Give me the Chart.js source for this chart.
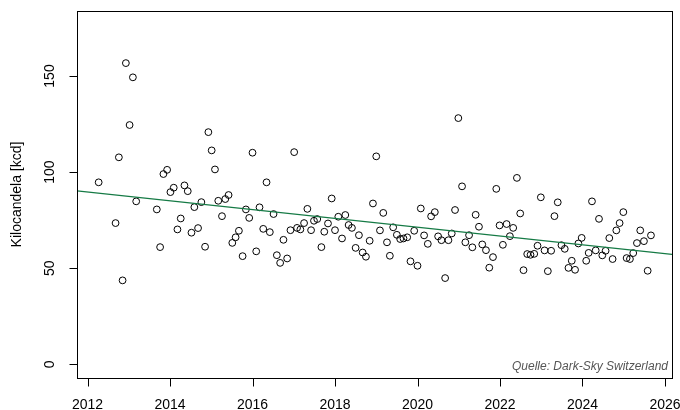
<!DOCTYPE html>
<html>
<head>
<meta charset="utf-8">
<script src="https://cdn.jsdelivr.net/npm/chart.js@4.4.1/dist/chart.umd.min.js"></script>
<style>
  html, body { margin: 0; padding: 0; background: #fff; }
  #wrap { width: 680px; height: 410px; }
</style>
</head>
<body>
<div id="wrap"><canvas id="chart" width="680" height="410"></canvas></div>
<script>
// data (decimal year, kcd)
const years = [
  2012.27, 2012.68, 2012.76, 2012.85, 2012.93, 2013.02, 2013.10, 2013.18,
  2013.68, 2013.76, 2013.84, 2013.93, 2014.01, 2014.09, 2014.18, 2014.26,
  2014.35, 2014.43, 2014.52, 2014.59, 2014.68, 2014.76, 2014.85, 2014.93,
  2015.01, 2015.09, 2015.17, 2015.26, 2015.34, 2015.42, 2015.51, 2015.59,
  2015.67, 2015.76, 2015.84, 2015.92, 2016.00, 2016.09, 2016.17, 2016.26,
  2016.34, 2016.42, 2016.51, 2016.59, 2016.67, 2016.75, 2016.84, 2016.92,
  2017.01, 2017.08, 2017.16, 2017.25, 2017.33, 2017.42, 2017.49, 2017.57,
  2017.67, 2017.74, 2017.83, 2017.92, 2018.00, 2018.08, 2018.17, 2018.25,
  2018.33, 2018.41, 2018.50, 2018.58, 2018.67, 2018.75, 2018.84, 2018.92,
  2019.00, 2019.09, 2019.17, 2019.26, 2019.33, 2019.41, 2019.50, 2019.58,
  2019.66, 2019.75, 2019.83, 2019.92, 2020.00, 2020.08, 2020.16, 2020.25,
  2020.33, 2020.42, 2020.50, 2020.58, 2020.67, 2020.75, 2020.83, 2020.91,
  2020.99, 2021.08, 2021.16, 2021.25, 2021.33, 2021.41, 2021.49, 2021.57,
  2021.66, 2021.74, 2021.83, 2021.91, 2021.99, 2022.07, 2022.16, 2022.24,
  2022.32, 2022.41, 2022.49, 2022.57, 2022.66, 2022.74, 2022.83, 2022.91,
  2022.99, 2023.08, 2023.16, 2023.24, 2023.32, 2023.40, 2023.49, 2023.57,
  2023.66, 2023.74, 2023.82, 2023.90, 2023.98, 2024.09, 2024.15, 2024.23,
  2024.32, 2024.40, 2024.48, 2024.56, 2024.65, 2024.73, 2024.82, 2024.90,
  2024.99, 2025.07, 2025.15, 2025.23, 2025.32, 2025.40, 2025.49, 2025.58,
  2025.66
];
const kcd = [
  94.7, 73.5, 107.7, 43.7, 156.7, 124.5, 149.3, 84.8,
  80.6, 61.0, 99.0, 101.2, 89.6, 91.9, 70.2, 75.9,
  93.1, 90.1, 68.5, 81.8, 70.9, 84.4, 61.2, 120.8,
  111.3, 101.4, 85.1, 77.1, 86.0, 88.1, 63.2, 66.1,
  69.5, 56.3, 80.6, 76.2, 110.1, 58.8, 81.7, 70.5,
  94.7, 68.8, 78.2, 56.8, 52.8, 64.8, 55.1, 69.8,
  110.4, 71.0, 70.2, 73.5, 80.9, 69.8, 74.7, 75.6,
  61.0, 69.0, 73.3, 86.3, 69.8, 76.8, 65.5, 77.7,
  72.5, 71.0, 60.6, 67.2, 58.2, 56.0, 64.3, 83.7,
  108.2, 69.7, 78.8, 63.5, 56.5, 71.3, 67.4, 65.2,
  65.5, 66.1, 53.6, 69.5, 51.3, 81.1, 67.1, 62.7,
  77.0, 79.2, 66.6, 64.6, 44.9, 64.6, 68.1, 80.3,
  128.1, 92.6, 63.5, 67.2, 60.9, 77.8, 71.6, 62.4,
  59.4, 50.3, 55.8, 91.3, 72.3, 62.2, 73.0, 66.7,
  71.0, 97.0, 78.5, 49.0, 57.4, 57.0, 57.5, 61.7,
  86.9, 59.3, 48.5, 59.1, 77.1, 84.3, 62.0, 60.1,
  50.2, 53.9, 49.2, 62.9, 65.8, 53.9, 58.0, 84.8,
  59.3, 75.7, 56.7, 59.1, 65.7, 54.8, 69.7, 73.5,
  79.2, 55.3, 54.8, 57.9, 63.1, 69.7, 64.1, 48.7,
  67.1
];
// fitted trend line, end points at the plot edges
const trendX = [2011.745, 2026.17];
const trendY = [90.3, 57.2];

const xTicks = [2012, 2014, 2016, 2018, 2020, 2022, 2024, 2026];
const yTicks = [0, 50, 100, 150];
const yTitle = "Kilocandela [kcd]";
const note = "Quelle: Dark-Sky Switzerland";

const FONT = "'Liberation Sans', Arial, Helvetica, sans-serif";

// R style box + axes
const rAxes = {
  id: "rAxes",
  afterDraw(chart) {
    const ctx = chart.ctx;
    const a = chart.chartArea;
    const xs = chart.scales.x, ys = chart.scales.y;
    const L = Math.round(a.left) + 0.5, R = Math.round(a.right) + 0.5;
    const T = Math.round(a.top) + 0.5, B = Math.round(a.bottom) + 0.5;
    ctx.save();
    ctx.strokeStyle = "#000";
    ctx.lineWidth = 1;
    ctx.strokeRect(L, T, R - L, B - T);

    ctx.fillStyle = "#000";
    ctx.font = "14px " + FONT;

    // x axis
    ctx.beginPath();
    ctx.moveTo(Math.round(xs.getPixelForValue(xTicks[0])) + 0.5, B);
    ctx.lineTo(Math.round(xs.getPixelForValue(xTicks[xTicks.length - 1])) + 0.5, B);
    xTicks.forEach(t => {
      const px = Math.round(xs.getPixelForValue(t)) + 0.5;
      ctx.moveTo(px, B);
      ctx.lineTo(px, B + 8);
    });
    ctx.stroke();
    ctx.textAlign = "center";
    ctx.textBaseline = "middle";
    xTicks.forEach(t => ctx.fillText(String(t), xs.getPixelForValue(t), B + 27));

    // y axis
    ctx.beginPath();
    yTicks.forEach(t => {
      const py = Math.round(ys.getPixelForValue(t)) + 0.5;
      ctx.moveTo(L, py);
      ctx.lineTo(L - 8, py);
    });
    ctx.stroke();
    yTicks.forEach(t => {
      ctx.save();
      ctx.translate(L - 27, ys.getPixelForValue(t));
      ctx.rotate(-Math.PI / 2);
      ctx.fillText(String(t), 0, 0);
      ctx.restore();
    });
    ctx.save();
    ctx.translate(L - 60, (a.top + a.bottom) / 2);
    ctx.rotate(-Math.PI / 2);
    ctx.fillText(yTitle, 0, 0);
    ctx.restore();

    // source note
    ctx.font = "italic 12px " + FONT;
    ctx.fillStyle = "#555";
    ctx.textAlign = "right";
    ctx.textBaseline = "alphabetic";
    ctx.fillText(note, a.right - 4, a.bottom - 8);
    ctx.restore();
  }
};

new Chart(document.getElementById("chart").getContext("2d"), {
  type: "scatter",
  data: {
    datasets: [
      {
        type: "line",
        data: trendX.map((x, i) => ({ x, y: trendY[i] })),
        borderColor: "#157a45",
        borderWidth: 1.3,
        pointRadius: 0,
        fill: false
      },
      {
        data: years.map((x, i) => ({ x, y: kcd[i] })),
        pointStyle: "circle",
        pointRadius: 3.4,
        borderColor: "#000",
        backgroundColor: "rgba(0,0,0,0)",
        borderWidth: 1
      }
    ]
  },
  options: {
    responsive: false,
    animation: false,
    devicePixelRatio: 1,
    layout: { padding: { left: 77, right: 8, top: 11, bottom: 32 } },
    plugins: { legend: { display: false }, tooltip: { enabled: false } },
    scales: {
      x: { type: "linear", min: 2011.745, max: 2026.17, display: false },
      y: { type: "linear", min: -7.07, max: 183.8, display: false }
    }
  },
  plugins: [rAxes]
});
</script>
</body>
</html>
